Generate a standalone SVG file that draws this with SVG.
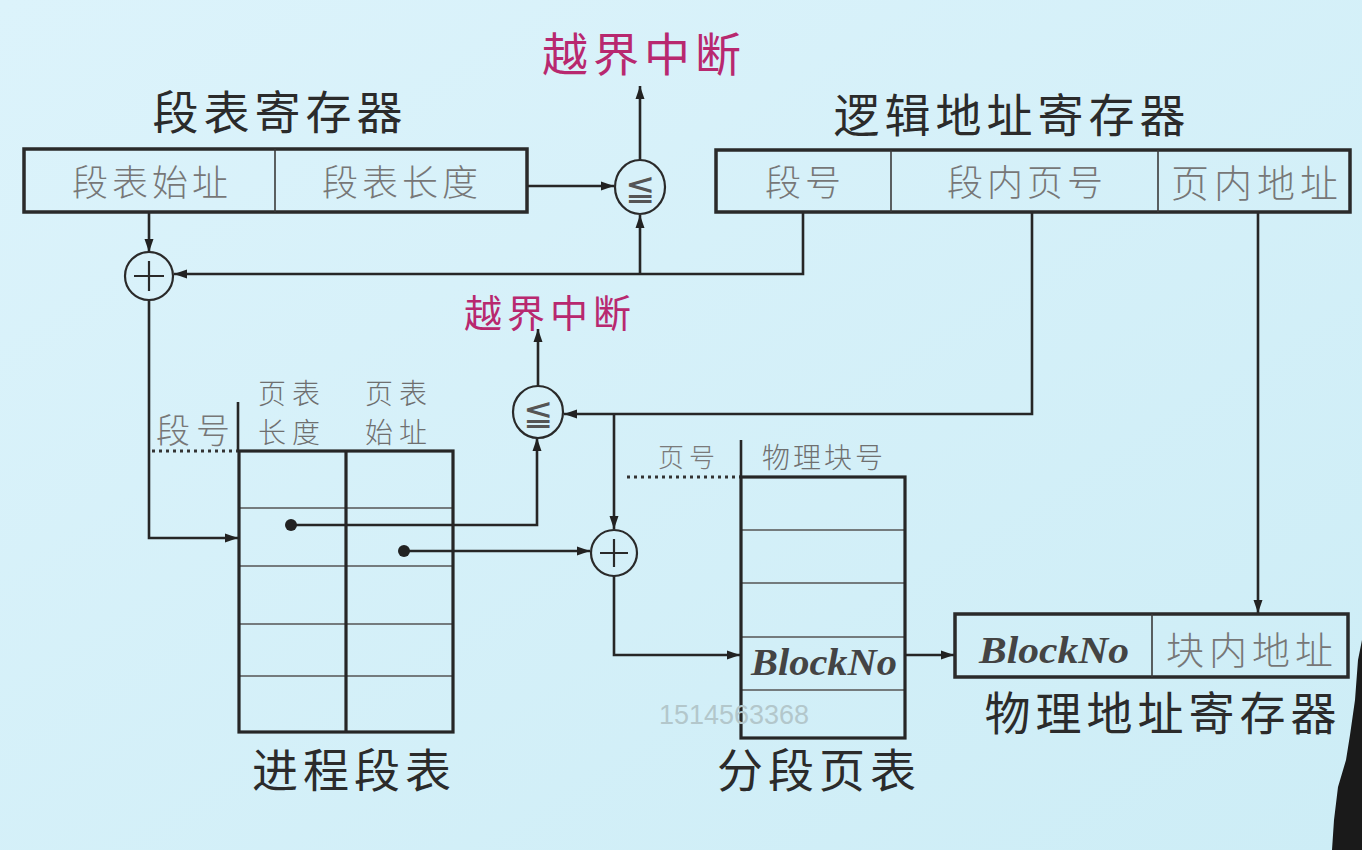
<svg xmlns="http://www.w3.org/2000/svg" width="1362" height="850" viewBox="0 0 1362 850">
<defs>
<linearGradient id="bg" x1="0" y1="0" x2="1" y2="1">
<stop offset="0" stop-color="#dcf3fb"/>
<stop offset="1" stop-color="#cdedf6"/>
</linearGradient>
<marker id="ah" markerUnits="userSpaceOnUse" markerWidth="14" markerHeight="10" refX="13" refY="5" orient="auto">
<path d="M0,0.5 L13,5 L0,9.5 z" fill="#222"/>
</marker>
<style>
.cj{font-family:"Noto Sans CJK SC","Noto Sans CJK JP",sans-serif;text-anchor:middle}
.title{font-size:46px;fill:#2b2b2b;letter-spacing:5px}
.cell{font-size:36px;fill:#777;letter-spacing:4px;font-weight:300}
.red{fill:#b8286f}
.hdr{font-size:28px;fill:#6f6f6f;letter-spacing:6px;font-weight:300}
.bn{font-family:"Liberation Serif","Times New Roman",serif;font-weight:bold;font-style:italic;font-size:38px;fill:#444;text-anchor:middle}
.reg{fill:none;stroke:#2a2a2a;stroke-width:3.5}
.thin{stroke:#3a3a3a;stroke-width:1.6}
.row{stroke:#555;stroke-width:1.6}
.tbl{fill:none;stroke:#262626;stroke-width:3.2}
.ln{fill:none;stroke:#262626;stroke-width:2.6}
.arr{fill:none;stroke:#262626;stroke-width:2.6;marker-end:url(#ah)}
.dot{fill:none;stroke:#333;stroke-width:3;stroke-dasharray:3 4}
.op{fill:none;stroke:#2a2a2a;stroke-width:2.2}
.cmp{font-family:"DejaVu Sans","Noto Sans CJK SC",sans-serif;font-size:36px;fill:#555;text-anchor:middle}
</style>
</defs>
<rect width="1362" height="850" fill="url(#bg)"/>

<g id="connectors">
<path class="arr" d="M527,186 H614"/>
<path class="arr" d="M640,160 V86"/>
<path class="arr" d="M803,212 V274 H174"/>
<path class="arr" d="M640,274 V215"/>
<path class="arr" d="M149,212 V252"/>
<path class="arr" d="M149,300 V538 H238"/>
<path class="arr" d="M291,525 H537 V438"/>
<path class="arr" d="M538,386 V329"/>
<path class="arr" d="M1032,212 V414 H564"/>
<path class="arr" d="M614,414 V529"/>
<path class="arr" d="M404,551 H590"/>
<path class="arr" d="M614,576 V655 H740"/>
<path class="arr" d="M905,655 H954"/>
<path class="arr" d="M1258,212 V613"/>
<circle cx="291" cy="525" r="6" fill="#222"/>
<circle cx="404" cy="551" r="6" fill="#222"/>
</g>

<g id="interrupt-top">
<text class="cj title red" x="644" y="71">越界中断</text>
</g>

<g id="seg-table-register">
<text class="cj title" x="280" y="129">段表寄存器</text>
<rect class="reg" x="24" y="149" width="503" height="63"/>
<line class="thin" x1="275" y1="149" x2="275" y2="212"/>
<text class="cj cell" x="152" y="196">段表始址</text>
<text class="cj cell" x="402" y="196">段表长度</text>
</g>

<g id="compare-top">
<ellipse class="op" cx="640" cy="187" rx="25" ry="27"/>
<text class="cmp" x="640" y="200">≦</text>
</g>

<g id="add-top">
<circle class="op" cx="149" cy="276" r="24"/>
<path class="op" d="M134,276 H164 M149,261 V291"/>
</g>

<g id="logical-address-register">
<text class="cj title" x="1012" y="132">逻辑地址寄存器</text>
<rect class="reg" x="716" y="150" width="634" height="62"/>
<line class="thin" x1="891" y1="150" x2="891" y2="212"/>
<line class="thin" x1="1158" y1="150" x2="1158" y2="212"/>
<text class="cj cell" x="805" y="196">段号</text>
<text class="cj cell" x="1027" y="196">段内页号</text>
<text class="cj cell" x="1257" y="197" style="font-size:38px;letter-spacing:5px">页内地址</text>
</g>

<g id="interrupt-mid">
<text class="cj red" x="550" y="327" style="font-size:38px;letter-spacing:5px">越界中断</text>
</g>

<g id="compare-mid">
<ellipse class="op" cx="538" cy="412" rx="25" ry="26"/>
<text class="cmp" x="538" y="425">≦</text>
</g>

<g id="process-segment-table">
<line class="ln" x1="238" y1="402" x2="238" y2="451"/>
<line class="dot" x1="152" y1="451" x2="238" y2="451"/>
<text class="cj" x="196" y="443" style="font-size:34px;fill:#777;letter-spacing:6px;font-weight:300">段号</text>
<text class="cj hdr" x="292" y="404">页表</text>
<text class="cj hdr" x="292" y="443">长度</text>
<text class="cj hdr" x="399" y="404">页表</text>
<text class="cj hdr" x="399" y="443">始址</text>
<line class="row" x1="239" y1="508" x2="453" y2="508"/>
<line class="row" x1="239" y1="566" x2="453" y2="566"/>
<line class="row" x1="239" y1="624" x2="453" y2="624"/>
<line class="row" x1="239" y1="676" x2="453" y2="676"/>
<rect class="tbl" x="239" y="451" width="214" height="281"/>
<line class="tbl" x1="346" y1="451" x2="346" y2="732"/>
<text class="cj title" x="354" y="787">进程段表</text>
</g>

<g id="add-mid">
<circle class="op" cx="614" cy="553" r="23"/>
<path class="op" d="M600,553 H628 M614,539 V567"/>
</g>

<g id="page-table">
<line class="ln" x1="741" y1="440" x2="741" y2="477"/>
<line class="dot" x1="627" y1="477" x2="741" y2="477"/>
<text class="cj" x="689" y="467" style="font-size:26px;fill:#7a7a7a;letter-spacing:5px;font-weight:300">页号</text>
<text class="cj" x="824" y="468" style="font-size:28px;fill:#6f6f6f;letter-spacing:3px;font-weight:300">物理块号</text>
<line class="row" x1="741" y1="530" x2="905" y2="530"/>
<line class="row" x1="741" y1="583" x2="905" y2="583"/>
<line class="row" x1="741" y1="637" x2="905" y2="637"/>
<line class="row" x1="741" y1="690" x2="905" y2="690"/>
<rect class="tbl" x="741" y="477" width="164" height="261"/>
<text class="bn" x="824" y="675" textLength="146" lengthAdjust="spacingAndGlyphs">BlockNo</text>
<text class="cj title" x="819" y="787">分段页表</text>
</g>

<g id="physical-address-register">
<rect class="reg" x="955" y="614" width="393" height="63"/>
<line class="thin" x1="1152" y1="614" x2="1152" y2="677"/>
<text class="bn" x="1054" y="663" textLength="150" lengthAdjust="spacingAndGlyphs">BlockNo</text>
<text class="cj" x="1252" y="664" style="font-size:38px;fill:#777;letter-spacing:5px;font-weight:300">块内地址</text>
<text class="cj title" x="1163" y="730">物理地址寄存器</text>
</g>

<text x="734" y="724" style="font-family:'Liberation Sans',Arial,sans-serif;font-size:27px;fill:#b3c7cb;text-anchor:middle">1514563368</text>
<path d="M1362,640 L1358,660 L1355,700 L1350,735 L1346,760 L1338,787 L1334,820 L1332,850 L1362,850 z" fill="#1a1a1a"/>
</svg>
